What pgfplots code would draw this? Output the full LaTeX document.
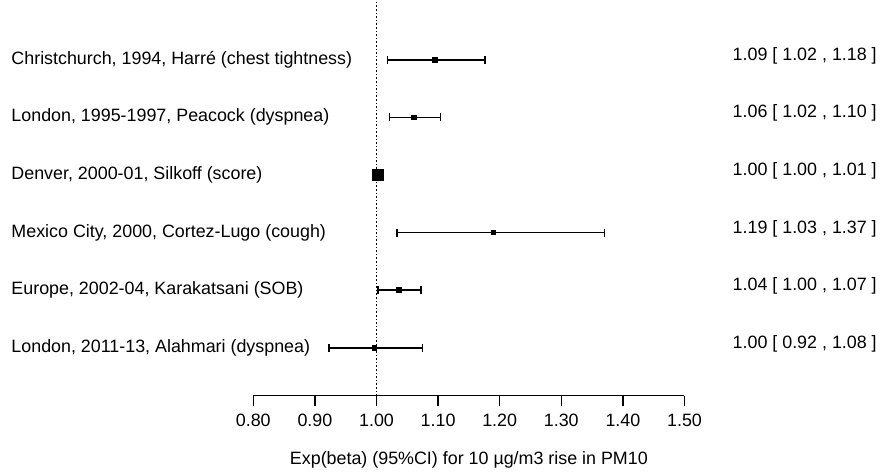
\documentclass[border=0pt]{standalone}
\usepackage{pgfplots}
\usepackage{pgfplotstable}
\pgfplotsset{compat=1.18}
\usepackage{fontspec}
\setmainfont{Liberation Sans}

% row, estimate, lower, upper, marker half-size (pt)
\pgfplotstableread{
row est lo hi sz
6 1.094 1.018 1.176 1.8
5 1.061 1.021 1.104 1.8
4 1.002 1.0005 1.006 4.1
3 1.190 1.033 1.370 1.5
2 1.0365 1.002 1.072 1.8
1 0.996 0.923 1.075 1.6
}\forest

\begin{document}
\begin{tikzpicture}[font=\fontsize{13.4}{15}\selectfont,
    lab/.style={anchor=west, inner sep=0pt},
    val/.style={anchor=east, inner sep=0pt}]
\begin{axis}[
    scale only axis,
    width=323.4pt, height=296.2pt,
    xmin=0.8, xmax=1.5, ymin=0.1667, ymax=7.024,
    axis x line=bottom, axis y line=none,
    axis line style={-, line width=1.1pt},
    xtick={0.8,0.9,...,1.5},
    tick align=outside, major tick length=7.5pt,
    tick style={line width=1.1pt, black},
    xticklabel style={yshift=-2.8pt},
    /pgf/number format/.cd, fixed, precision=2, zerofill, assume math mode=true,
    /pgfplots/.cd,
    xlabel={Exp(beta) (95\%CI) for 10 µg/m3 rise in PM10},
    xlabel style={yshift=-12pt},
    clip=false,
]
\path (axis cs:0.3888,-1.118) rectangle (axis cs:1.8174,7.024);
\addplot[black, line width=1.2pt, dash pattern=on 1.2pt off 1.5pt] coordinates {(1,0.1667) (1,7.024)};
\addplot[draw=none, mark=none, error bars/.cd, x dir=both, x explicit,
    error bar style={line width=1.2pt, black}, error mark=|,
    error mark options={mark size=3pt, line width=1.2pt, black}]
  table[x=est, y=row, x error plus expr=\thisrow{hi}-\thisrow{est}, x error minus expr=\thisrow{est}-\thisrow{lo}] {\forest};
\addplot[scatter, only marks, mark=square*,
    scatter/use mapped color={draw=black, fill=black},
    visualization depends on={\thisrow{sz}\as\msize},
    scatter/@pre marker code/.append style={/tikz/mark size=\msize}]
  table[x=est, y=row] {\forest};

\node[lab] at (axis cs:0.407,6) {Christchurch, 1994, Harré (chest tightness)};
\node[lab] at (axis cs:0.407,5) {London, 1995-1997, Peacock (dyspnea)};
\node[lab] at (axis cs:0.407,4) {Denver, 2000-01, Silkoff (score)};
\node[lab] at (axis cs:0.407,3) {Mexico City, 2000, Cortez-Lugo (cough)};
\node[lab] at (axis cs:0.407,2) {Europe, 2002-04, Karakatsani (SOB)};
\node[lab] at (axis cs:0.407,1) {London, 2011-13, Alahmari (dyspnea)};

\node[val] at (axis cs:1.8125,6.07) {1.09 [ 1.02 , 1.18 ]};
\node[val] at (axis cs:1.8125,5.07) {1.06 [ 1.02 , 1.10 ]};
\node[val] at (axis cs:1.8125,4.07) {1.00 [ 1.00 , 1.01 ]};
\node[val] at (axis cs:1.8125,3.07) {1.19 [ 1.03 , 1.37 ]};
\node[val] at (axis cs:1.8125,2.07) {1.04 [ 1.00 , 1.07 ]};
\node[val] at (axis cs:1.8125,1.07) {1.00 [ 0.92 , 1.08 ]};
\end{axis}
\end{tikzpicture}
\end{document}
